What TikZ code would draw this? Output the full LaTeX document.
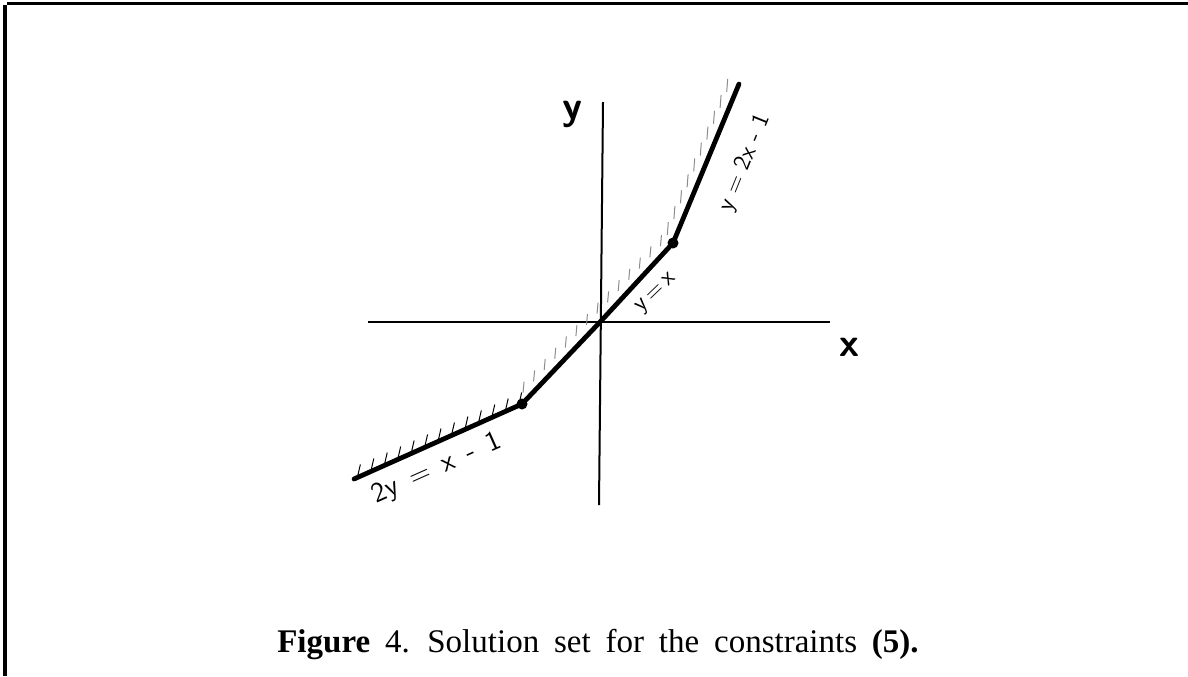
\documentclass[tikz,border=0pt]{standalone}
\usepackage{fontspec}
\setmainfont{Liberation Serif}
\usetikzlibrary{calc}
\tikzset{
	axis/.style={line width=1pt},
	frame/.style={line width=1.6pt},
	solset/.style={line width=2.4pt, line join=round, line cap=round},
	hatch/.style={line width=0.5pt},
	faint/.style={hatch, black!45},
	corner/.style={circle, fill, inner sep=0pt, minimum size=5.5pt},
	hand/.style={font=\sffamily\fontsize{#1}{#1}\selectfont, inner sep=0pt},
	caption/.style={font={\fontsize{16.5}{20}\selectfont\spaceskip=0.45em\relax}, anchor=base, inner sep=0pt}
}

\begin{document}
\begin{tikzpicture}[x=0.5pt, y=-0.5pt]
	% page frame (top and left rules only)
	\useasboundingbox (0,0) rectangle (1188,676);
	\coordinate (tl) at (7,3.5);
	\coordinate (tr) at (1188,3.5);
	\coordinate (lt) at (5,5);
	\coordinate (lb) at (5,676);
	\draw[frame] (tl) -- (tr);
	\draw[frame] (lt) -- (lb);
	
	% Axes
	\coordinate (O) at (601,321); % origin
	\coordinate (ytop) at (603,102);
	\coordinate (ybot) at (599,505);
	\coordinate (xleft) at (368,322);
	\coordinate (xright) at (830,322);
	\draw[axis] (ybot) -- (ytop);
	\draw[axis] (xleft) -- (xright);
	\node[hand=20] (ylab) at (572,114) {\bfseries y};
	\node[hand=20] (xlab) at (849,347) {\bfseries x};
	
	% Corner points of the solution set
	\coordinate (Ls) at (354,479);
	\coordinate (Pl) at (522,404);
	\coordinate (Pu) at (673,243);
	\coordinate (Ue) at (739,84);
	
	% Hatching on the feasible side
	\foreach \t in {0.02,0.1,...,0.99}
		\draw[hatch] ($(Ls)!\t!(Pl)$) -- ++(3,-13);
	\foreach \t in {0.04,0.11,...,0.99}
		\draw[faint] ($(Pl)!\t!(Pu)+(-5,-5)$) -- ++(1,-11);
	\foreach \t in {0.05,0.15,...,0.99}
		\draw[faint] ($(Pu)!\t!(Ue)+(-9,0)$) -- ++(1,-13);
	
	% Boundary of the solution set
	\draw[solset] (Ls) -- (Pl) -- (O) -- (Pu) -- (Ue);
	\node[corner] (dl) at (Pl) {};
	\node[corner] (du) at (Pu) {};
	
	% Line labels
	\node[hand=14, rotate=24] (l1) at (437,469) {2y\, =\, x\, -\, 1};
	\node[hand=12, rotate=44] (l2) at (657,294) {y\,=\,x};
	\node[hand=12, rotate=68] (l3) at (745,163) {y = 2x - 1};
	
	% Caption
	\node[caption] (cap) at (598,652) {\textbf{Figure} 4. Solution set for the constraints \textbf{(5).}};
\end{tikzpicture}
\end{document}
